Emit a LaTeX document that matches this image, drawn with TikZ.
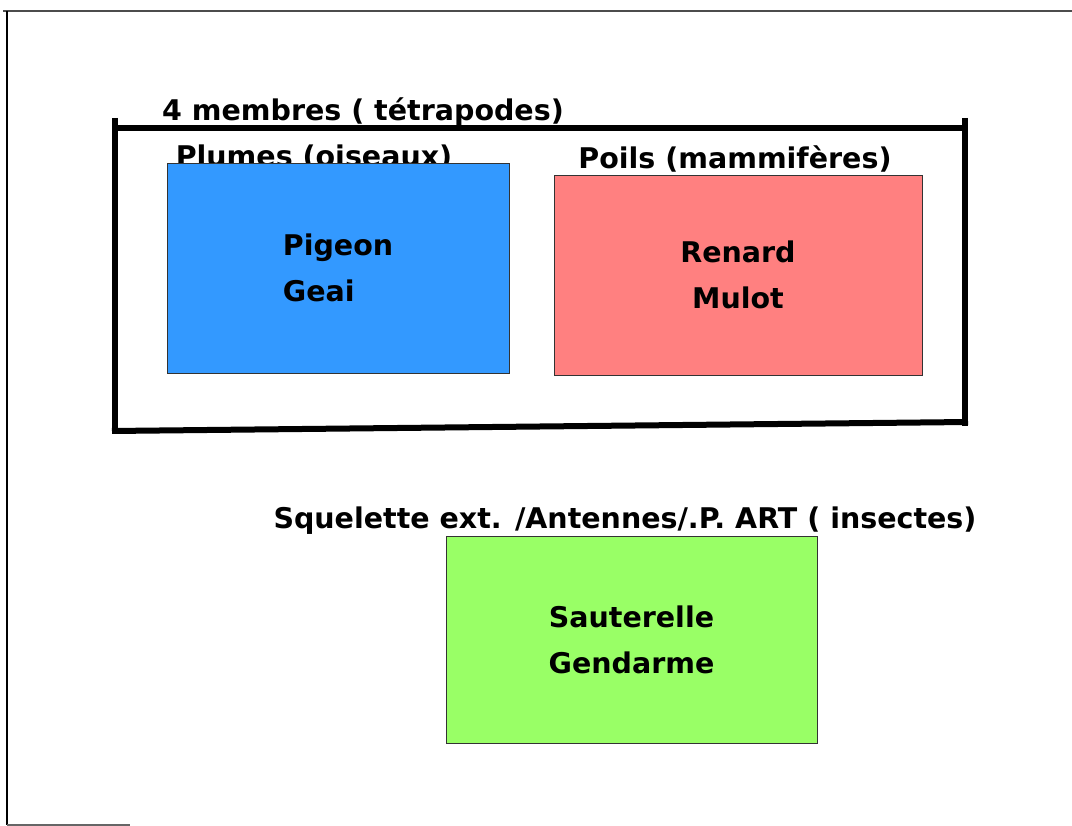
\documentclass[tikz,border=0pt]{standalone}
\usepackage{fontspec}
\setmainfont{DejaVu Sans}
\definecolor{oiseauxblue}{HTML}{3399FF}
\definecolor{mammred}{HTML}{FF8080}
\definecolor{insectgreen}{HTML}{99FF66}
\tikzset{
    groupbox/.style={draw=black!80,line width=0.8pt,inner sep=0pt,align=center,
        font=\bfseries\fontsize{28.5}{46}\selectfont},
    grouplabel/.style={anchor=base,inner sep=0pt,font=\bfseries\fontsize{28.5}{34}\selectfont}
}
\begin{document}
\begin{tikzpicture}[x=1pt,y=-1pt]
    \useasboundingbox (0,0) rectangle (1072,826);
    % page edges
    \draw[line width=1.5pt,black!70] (3,11) -- (1072,11);
    \draw[line width=1.5pt] (7,11) -- (7,825);
    \draw[line width=1.5pt,black!60] (7,825) -- (130,825);
    % tetrapodes frame
    \draw[line width=6pt] (115,118) -- (115,434);
    \draw[line width=6pt] (112,128) -- (968,128);
    \draw[line width=6pt] (965,118) -- (965,426);
    \draw[line width=6pt] (112,431) -- (968,422);
    \node[grouplabel] (tetra) at (363,121) {4 membres ( tétrapodes)};
    \node[grouplabel] (plumes) at (314,167) {Plumes (oiseaux)};
    \node[grouplabel] (poils) at (735,169) {Poils (mammifères)};
    \node[grouplabel] (squel) at (625,528) {Squelette ext. /Antennes/.P. ART ( insectes)};
    % groups
    \node[groupbox,fill=oiseauxblue,minimum width=342pt,minimum height=210pt,align=left] (oiseaux) at (338,268) {\raisebox{-3pt}{Pigeon}\\\raisebox{-3pt}{Geai}};
    \node[groupbox,fill=mammred,minimum width=368pt,minimum height=200pt] (mammiferes) at (738,275) {\raisebox{-3pt}{Renard}\\\raisebox{-3pt}{Mulot}};
    \node[groupbox,fill=insectgreen,minimum width=371pt,minimum height=207pt] (insectes) at (631.5,639.5) {\raisebox{-3pt}{Sauterelle}\\\raisebox{-3pt}{Gendarme}};
\end{tikzpicture}
\end{document}
